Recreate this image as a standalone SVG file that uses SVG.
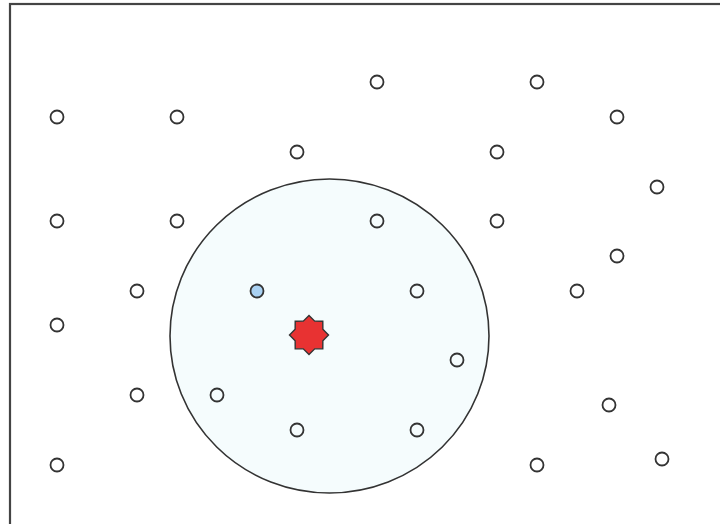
<svg xmlns="http://www.w3.org/2000/svg" width="720" height="524" viewBox="0 0 720 524">
<style>
.pt{fill:#ffffff;stroke:#333333;stroke-width:1.8}
.pin{fill:#f5fcfd;stroke:#333333;stroke-width:1.8}
</style>
<rect x="0" y="0" width="720" height="524" fill="#ffffff"/>
<rect x="10" y="4" width="740" height="560" fill="none" stroke="#444444" stroke-width="2.2"/>
<g id="range">
<ellipse cx="329.5" cy="336" rx="159.5" ry="157" fill="#f5fcfd" stroke="#333333" stroke-width="1.6"/>
</g>
<g id="connectors"></g>
<g id="points">
<circle class="pt" cx="377" cy="82" r="6.5"/>
<circle class="pt" cx="537" cy="82" r="6.5"/>
<circle class="pt" cx="57" cy="117" r="6.5"/>
<circle class="pt" cx="177" cy="117" r="6.5"/>
<circle class="pt" cx="617" cy="117" r="6.5"/>
<circle class="pt" cx="297" cy="152" r="6.5"/>
<circle class="pt" cx="497" cy="152" r="6.5"/>
<circle class="pt" cx="657" cy="187" r="6.5"/>
<circle class="pt" cx="57" cy="221" r="6.5"/>
<circle class="pt" cx="177" cy="221" r="6.5"/>
<circle class="pin" cx="377" cy="221" r="6.5"/>
<circle class="pt" cx="497" cy="221" r="6.5"/>
<circle class="pt" cx="617" cy="256" r="6.5"/>
<circle class="pt" cx="137" cy="291" r="6.5"/>
<circle id="nearest" cx="257" cy="291" r="6.5" fill="#a9d1f2" stroke="#333333" stroke-width="1.8"/>
<circle class="pin" cx="417" cy="291" r="6.5"/>
<circle class="pt" cx="577" cy="291" r="6.5"/>
<circle class="pt" cx="57" cy="325" r="6.5"/>
<circle class="pin" cx="457" cy="360" r="6.5"/>
<circle class="pt" cx="137" cy="395" r="6.5"/>
<circle class="pin" cx="217" cy="395" r="6.5"/>
<circle class="pt" cx="609" cy="405" r="6.5"/>
<circle class="pin" cx="297" cy="430" r="6.5"/>
<circle class="pin" cx="417" cy="430" r="6.5"/>
<circle class="pt" cx="662" cy="459" r="6.5"/>
<circle class="pt" cx="57" cy="465" r="6.5"/>
<circle class="pt" cx="537" cy="465" r="6.5"/>
</g>
<g id="query">
<polygon points="309,315.5 314.74,321.14 322.79,321.21 322.86,329.26 328.5,335 322.86,340.74 322.79,348.79 314.74,348.86 309,354.5 303.26,348.86 295.21,348.79 295.14,340.74 289.5,335 295.14,329.26 295.21,321.21 303.26,321.14" fill="#e83232" stroke="#333333" stroke-width="1.4" stroke-linejoin="miter"/>
</g>
</svg>
